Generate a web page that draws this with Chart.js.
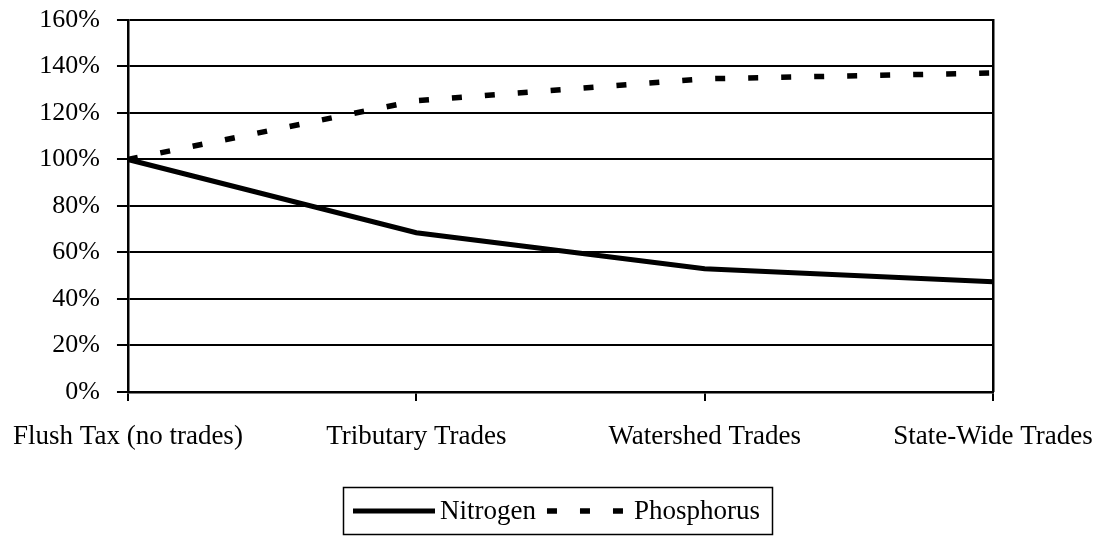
<!DOCTYPE html>
<html>
<head>
<meta charset="utf-8">
<script src="https://cdn.jsdelivr.net/npm/chart.js@4.4.1/dist/chart.umd.min.js"></script>
<style>
  html, body { margin: 0; padding: 0; background: #fff; }
  #wrap { width: 1107px; height: 536px; }
</style>
</head>
<body>
<div id="wrap"><canvas id="grafico"></canvas></div>
<script>
// datos
const categorias = ["Flush Tax (no trades)", "Tributary Trades", "Watershed Trades", "State-Wide Trades"];
const nitrogeno = [100, 68.5, 53, 47.4];
const fosforo = [100, 125.3, 134.7, 137.2];
const ticksY = [0, 20, 40, 60, 80, 100, 120, 140, 160];

const fuente = "'Liberation Serif', 'Times New Roman', serif";

// leyenda con recuadro, dibujada a mano
const leyendaRecuadro = {
  id: 'leyendaRecuadro',
  afterDraw(chart) {
    const ctx = chart.ctx;
    const cy = 511;
    ctx.save();
    ctx.font = `27px ${fuente}`;
    ctx.textBaseline = 'middle';
    ctx.fillStyle = '#000';
    ctx.strokeStyle = '#000';

    // recuadro
    ctx.lineWidth = 1.5;
    ctx.strokeRect(343.5, 487.5, 429, 47);

    const items = chart.data.datasets;
    let x = 353;
    const muestras = [82, 77];
    items.forEach((ds, i) => {
      ctx.beginPath();
      ctx.lineWidth = ds.borderWidth;
      ctx.lineCap = 'butt';
      ctx.setLineDash(ds.borderDash || []);
      ctx.moveTo(x, cy);
      ctx.lineTo(x + muestras[i], cy);
      ctx.stroke();
      ctx.setLineDash([]);
      x += muestras[i] + (i === 0 ? 5 : 10);
      ctx.fillText(ds.label, x, cy + 1);
      x += ctx.measureText(ds.label).width + 11;
    });
    ctx.restore();
  }
};

new Chart(document.getElementById('grafico').getContext('2d'), {
  type: 'line',
  data: {
    labels: categorias,
    datasets: [
      {
        label: 'Nitrogen',
        data: nitrogeno,
        borderColor: '#000',
        backgroundColor: '#000',
        borderWidth: 5,
        pointRadius: 0,
        tension: 0,
        fill: false
      },
      {
        label: 'Phosphorus',
        data: fosforo,
        borderColor: '#000',
        backgroundColor: '#000',
        borderWidth: 5.5,
        borderDash: [10, 23],
        pointRadius: 0,
        tension: 0,
        fill: false
      }
    ]
  },
  options: {
    responsive: true,
    maintainAspectRatio: false,
    animation: false,
    layout: { padding: { top: 20, left: 22.3, right: 114, bottom: 63 } },
    plugins: {
      legend: { display: false },
      tooltip: { enabled: false }
    },
    scales: {
      x: {
        offset: false,
        grid: { display: true, drawOnChartArea: false, drawTicks: true, tickLength: 9, lineWidth: 2, color: '#000' },
        border: { display: true, width: 2.5, color: '#000' },
        ticks: {
          color: '#000',
          // lineHeight alto para bajar las etiquetas sin inflar el margen lateral
          font: { family: fuente, size: 27, lineHeight: 2.52 },
          padding: 2,
          maxRotation: 0,
          autoSkip: false
        }
      },
      y: {
        min: 0,
        max: 160,
        afterBuildTicks: (axis) => { axis.ticks = ticksY.map(v => ({ value: v })); },
        grid: { color: '#000', lineWidth: 2, tickLength: 11, drawTicks: true },
        border: { display: true, width: 2.5, color: '#000' },
        ticks: {
          color: '#000',
          font: { family: fuente, size: 26, lineHeight: 0.2 },
          padding: 17,
          callback: (v) => v + '%'
        }
      },
      y1: {
        position: 'right',
        grid: { display: false, drawTicks: false },
        border: { display: true, width: 2.5, color: '#000' },
        ticks: { display: false }
      }
    }
  },
  plugins: [leyendaRecuadro]
});
</script>
</body>
</html>
